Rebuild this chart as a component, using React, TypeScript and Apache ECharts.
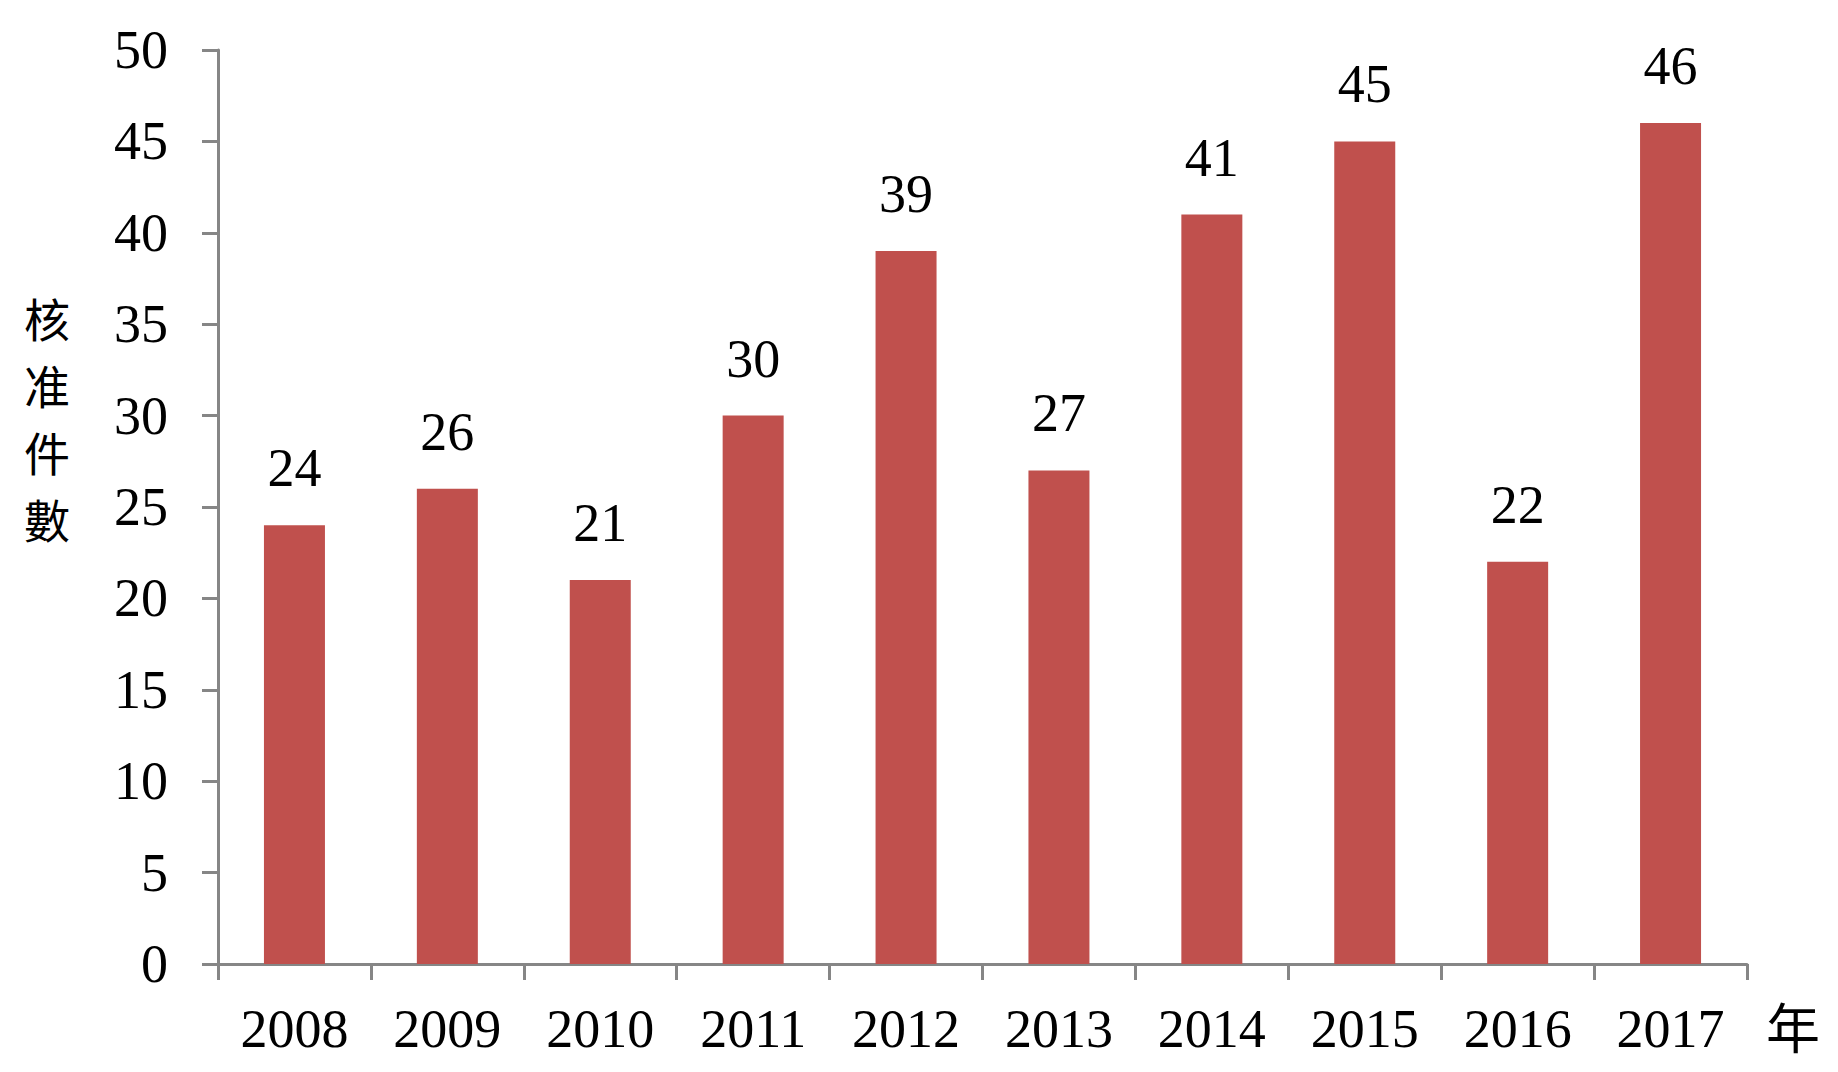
import React, { useEffect, useRef } from "react";
import * as echarts from "echarts";

const categories = ["2008", "2009", "2010", "2011", "2012", "2013", "2014", "2015", "2016", "2017"];
const values = [24, 26, 21, 30, 39, 27, 41, 45, 22, 46];
const yAxisName = "核准件數";
const xAxisName = "年";

const W = 1838;
const H = 1072;

export default function App() {
  const ref = useRef<HTMLDivElement>(null);
  useEffect(() => {
    if (!ref.current) return;
    const chart = echarts.init(ref.current, null, { renderer: "svg" });
    const serif = "'Liberation Serif', 'Times New Roman', serif";
    const cjk = "'Noto Sans CJK TC', sans-serif";
    const axisColor = "#868686";
    const nameChars = yAxisName.split("").map((ch, i) => ({
      type: "text",
      left: 24,
      top: 286 + i * 67,
      style: {
        text: ch,
        font: `46px ${cjk}`,
        lineHeight: 62,
        fill: "#000",
      },
    }));
    chart.setOption({
      animation: false,
      backgroundColor: "#ffffff",
      grid: { left: 218, right: 91, top: 50, bottom: 108, containLabel: false },
      xAxis: {
        type: "category",
        data: categories,
        axisLine: { lineStyle: { color: axisColor, width: 3 } },
        axisTick: { show: true, alignWithLabel: false, length: 16, lineStyle: { color: axisColor, width: 3 } },
        axisLabel: { color: "#000", fontFamily: serif, fontSize: 54, margin: 38 },
        splitLine: { show: false },
      },
      yAxis: {
        type: "value",
        min: 0,
        max: 50,
        interval: 5,
        axisLine: { show: true, lineStyle: { color: axisColor, width: 3 } },
        axisTick: { show: true, length: 16, lineStyle: { color: axisColor, width: 3 } },
        axisLabel: { color: "#000", fontFamily: serif, fontSize: 54, margin: 50 },
        splitLine: { show: false },
      },
      series: [
        {
          type: "bar",
          data: values,
          barWidth: 61,
          itemStyle: { color: "#C0504D" },
          label: {
            show: true,
            position: "top",
            distance: 30,
            color: "#000",
            fontFamily: serif,
            fontSize: 54,
          },
        },
      ],
      graphic: [
        ...nameChars,
        {
          type: "text",
          left: 1766,
          top: 998,
          style: {
            text: xAxisName,
            font: `54px ${cjk}`,
            fill: "#000",
          },
        },
      ],
    });
    return () => chart.dispose();
  }, []);
  return (
    <div
      ref={ref}
      style={{ position: "fixed", left: 0, top: 0, width: W, height: H, background: "#fff" }}
    />
  );
}
